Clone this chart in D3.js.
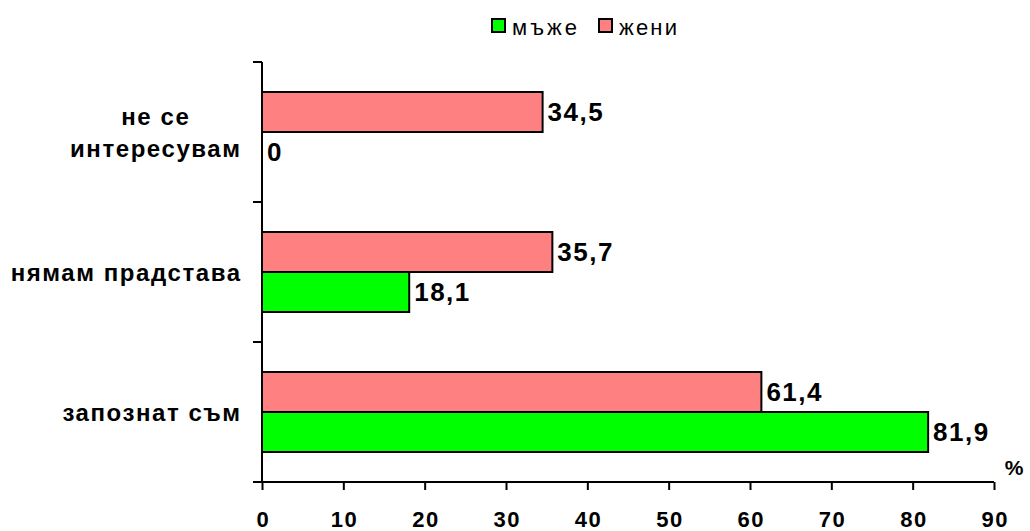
<!DOCTYPE html>
<html>
<head>
<meta charset="utf-8">
<script src="https://cdn.jsdelivr.net/npm/d3@7"></script>
<style>
  html, body { margin: 0; padding: 0; background: #fff; }
  svg { display: block; font-family: "Liberation Sans", Arial, sans-serif; }
</style>
</head>
<body>
<svg id="chart" width="1030" height="531"></svg>
<script>
// Categories, listed from top to bottom
const categories = ["не се интересувам", "нямам прадстава", "запознат съм"];
// Category label lines
const categoryLines = [["не се", "интересувам"], ["нямам прадстава"], ["запознат съм"]];
// Series
const seriesNames = ["мъже", "жени"];
const menValues = [0, 18.1, 81.9];
const womenValues = [34.5, 35.7, 61.4];
const seriesColors = ["#00FF00", "#FF8080"];
const xTicks = [0, 10, 20, 30, 40, 50, 60, 70, 80, 90];

const svg = d3.select("#chart");

const x = d3.scaleLinear().domain([0, 90]).range([262, 994]);
const y = d3.scaleBand().domain(categories).range([62, 482])
  .paddingInner(3 / 7).paddingOuter(3 / 14);
// Women's bar sits above the men's bar within each category
const ySub = d3.scaleBand().domain(["жени", "мъже"]).range([0, y.bandwidth()]);

const rows = [];
categories.forEach((c, i) => {
  rows.push({ cat: c, series: "жени", value: womenValues[i], color: seriesColors[1] });
  rows.push({ cat: c, series: "мъже", value: menValues[i], color: seriesColors[0] });
});

// Bars
svg.append("g").selectAll("rect").data(rows.filter(d => d.value > 0)).join("rect")
  .attr("x", x(0))
  .attr("y", d => y(d.cat) + ySub(d.series))
  .attr("width", d => x(d.value) - x(0))
  .attr("height", ySub.bandwidth())
  .attr("fill", d => d.color)
  .attr("stroke", "#000")
  .attr("stroke-width", 2);

// Value labels
const fmt = v => String(v).replace(".", ",");
svg.append("g").selectAll("text").data(rows).join("text")
  .attr("x", d => x(d.value) + 5)
  .attr("y", d => y(d.cat) + ySub(d.series) + ySub.bandwidth() / 2 + 9)
  .attr("font-size", 26)
  .attr("font-weight", "bold")
  .attr("letter-spacing", 1.5)
  .attr("fill", "#000")
  .text(d => fmt(d.value));

// Y axis line and band boundary ticks
const yAxisG = svg.append("g");
yAxisG.append("line")
  .attr("x1", x(0)).attr("x2", x(0))
  .attr("y1", y.range()[0]).attr("y2", y.range()[1])
  .attr("stroke", "#000").attr("stroke-width", 2);
const bounds = categories.map(c => y(c) - y.step() * y.paddingOuter()).concat([y.range()[1]]);
yAxisG.selectAll("line.tick").data(bounds).join("line")
  .attr("class", "tick")
  .attr("x1", x(0) - 9).attr("x2", x(0))
  .attr("y1", d => d).attr("y2", d => d)
  .attr("stroke", "#000").attr("stroke-width", 2);

// Category labels: right-aligned block, lines centred within it
const labelRight = 240;
const lineGap = 32;
const labelSpacing = 1.57;
categories.forEach((c, i) => {
  const lines = categoryLines[i];
  const g = svg.append("g");
  const mid = y(c) + y.bandwidth() / 2;
  const texts = lines.map((t, j) => g.append("text")
    .attr("font-size", 24)
    .attr("font-weight", "bold")
    .attr("letter-spacing", labelSpacing)
    .attr("text-anchor", "middle")
    .attr("y", mid + 9 + (j - (lines.length - 1) / 2) * lineGap)
    .text(t));
  const w = d3.max(texts, t => t.node().getComputedTextLength()) - labelSpacing;
  texts.forEach(t => t.attr("x", labelRight - w / 2 + labelSpacing / 2));
});

// X axis
const xAxis = d3.axisBottom(x).tickValues(xTicks).tickSize(8).tickFormat(d3.format("d"));
const xg = svg.append("g").attr("transform", `translate(0,${y.range()[1]})`).call(xAxis);
xg.select(".domain").remove();
xg.append("line")
  .attr("x1", x(0) - 9).attr("x2", x(90))
  .attr("stroke", "#000").attr("stroke-width", 2);
xg.selectAll(".tick line").attr("stroke", "#000").attr("stroke-width", 2);
xg.selectAll(".tick text")
  .attr("y", 45).attr("dy", null)
  .attr("x", 0.75)
  .attr("font-family", "'Liberation Sans', Arial, sans-serif")
  .attr("font-size", 22)
  .attr("font-weight", "bold")
  .attr("letter-spacing", 1.5)
  .attr("fill", "#000");

// Unit label
svg.append("text")
  .attr("x", 1014).attr("y", 475)
  .attr("text-anchor", "middle")
  .attr("font-size", 21)
  .attr("font-weight", "bold")
  .text("%");

// Legend
const legend = svg.append("g");
const legendItems = [
  { name: seriesNames[0], color: seriesColors[0], x: 492, w: 65 },
  { name: seriesNames[1], color: seriesColors[1], x: 599, w: 58 }
];
legendItems.forEach(it => {
  legend.append("rect")
    .attr("x", it.x).attr("y", 19).attr("width", 13).attr("height", 13)
    .attr("fill", it.color).attr("stroke", "#000").attr("stroke-width", 2);
  legend.append("text")
    .attr("x", it.x + 20).attr("y", 35)
    .attr("font-size", 22)
    .attr("textLength", it.w)
    .attr("lengthAdjust", "spacing")
    .text(it.name);
});
</script>
</body>
</html>
